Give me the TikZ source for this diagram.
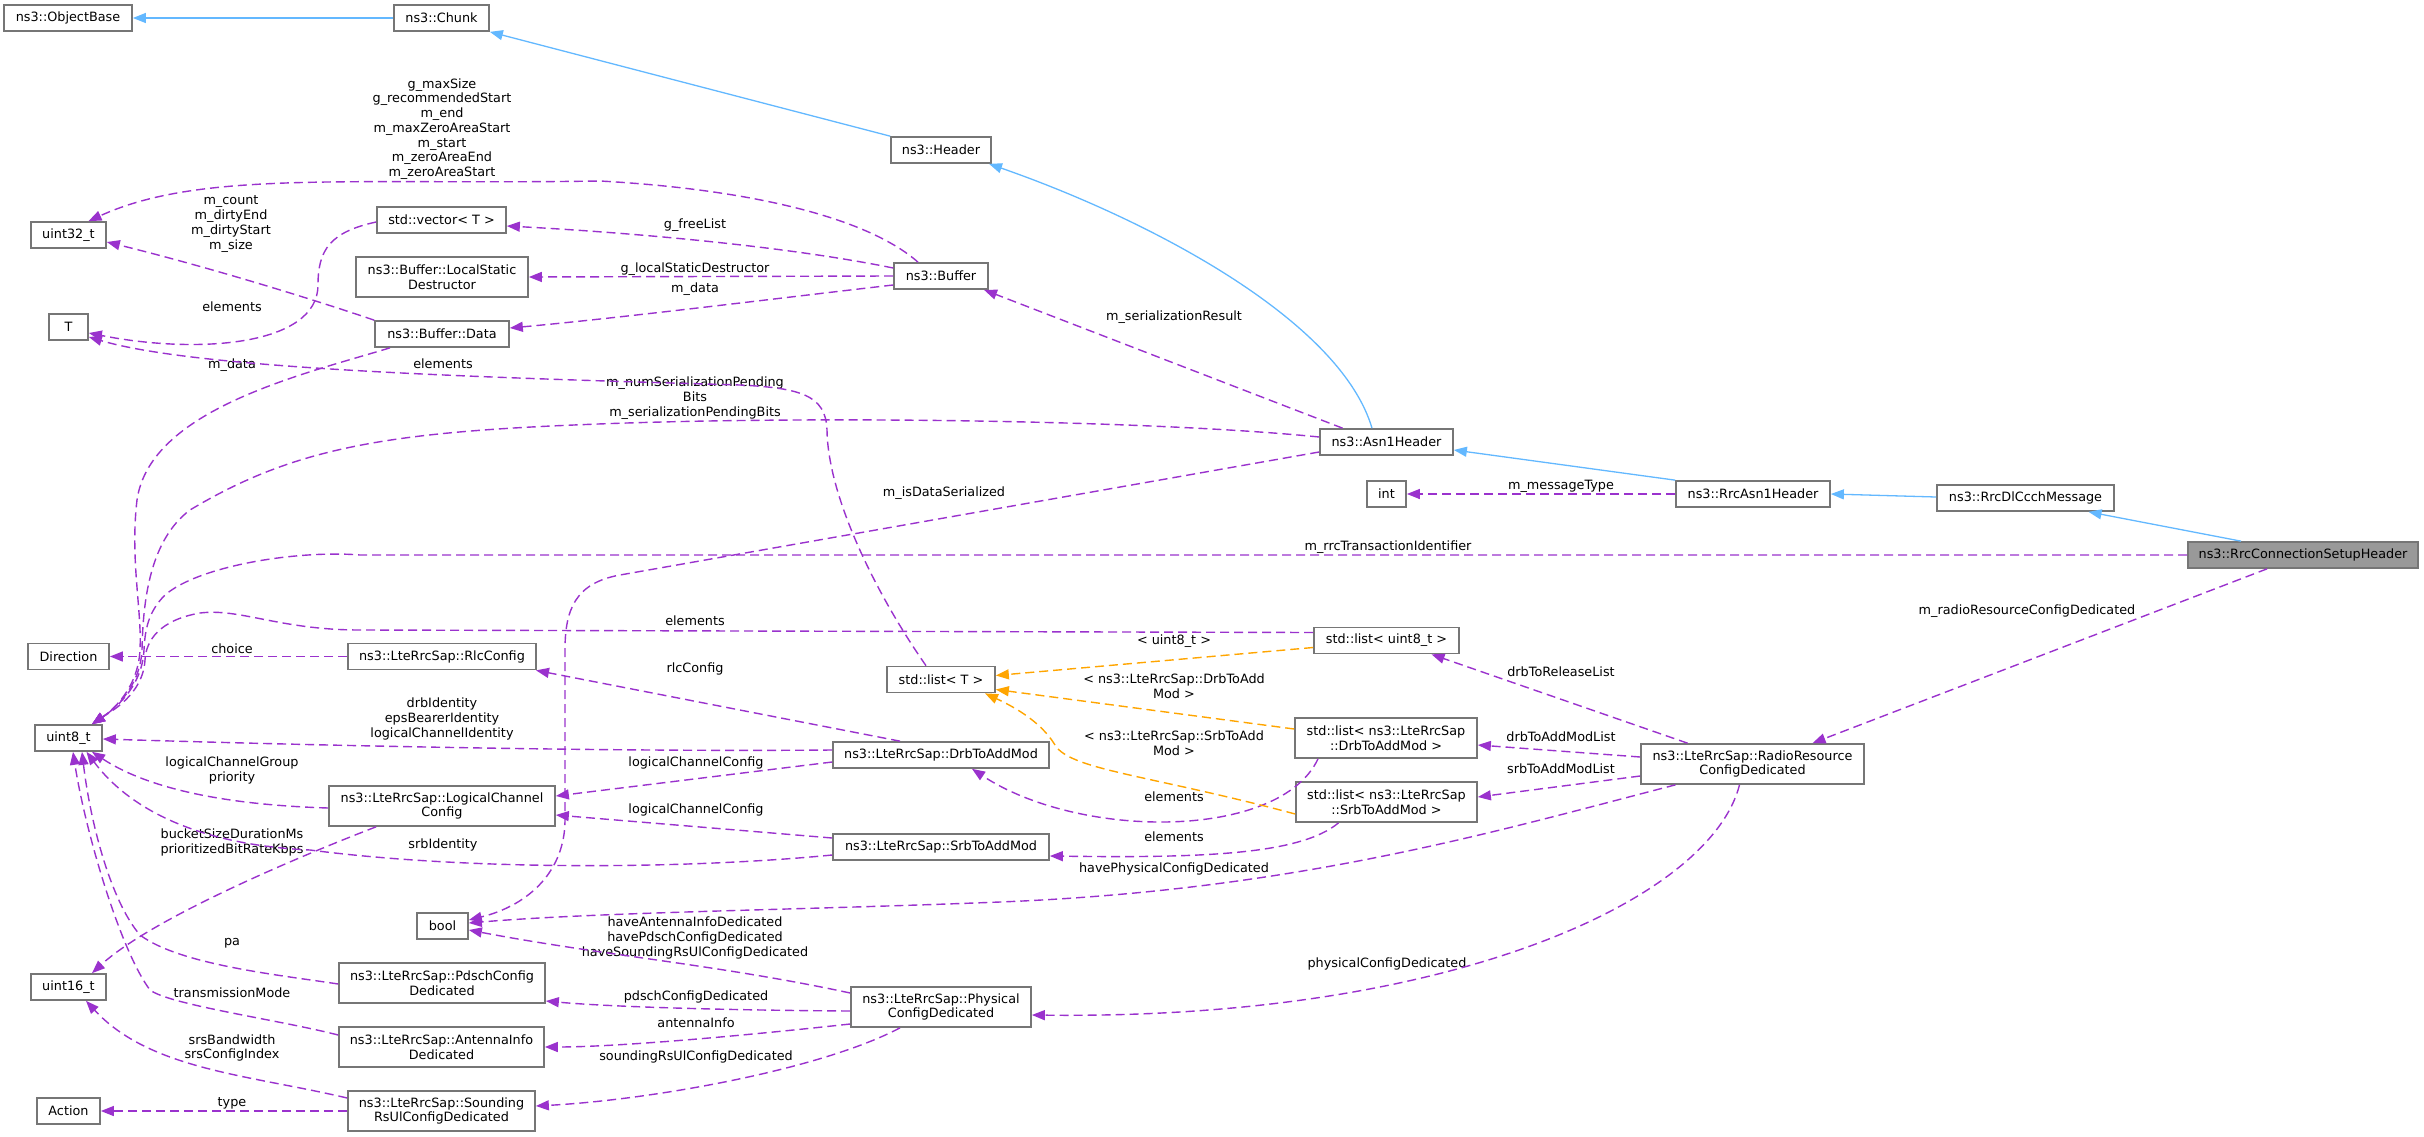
\documentclass[tikz,border=0pt]{standalone}
\usepackage{fontspec}
\setmainfont{DejaVu Sans}
\usetikzlibrary{arrows.meta}
\definecolor{edgepurple}{RGB}{154,50,205}
\definecolor{inhblue}{RGB}{99,184,255}
\definecolor{tplorange}{RGB}{255,165,0}
\definecolor{boxborder}{RGB}{118,118,118}
\definecolor{mainfill}{RGB}{153,153,153}
\newcommand{\lblfont}{\fontsize{12.8pt}{14.7pt}\selectfont}
\tikzset{
 box/.style={draw=boxborder, line width=1.7pt, fill=white, inner sep=0pt, minimum height=26pt, align=center, font=\lblfont},
 boxtwo/.style={box, minimum height=40pt},
 lbl/.style={inner sep=0pt, align=center, font=\lblfont},
 use/.style={draw=edgepurple, line width=1.4pt, dash pattern=on 9pt off 5pt, -{Triangle[length=13pt,width=10pt]}},
 inh/.style={draw=inhblue, line width=1.3pt, -{Triangle[length=13pt,width=10pt]}},
 tpl/.style={draw=tplorange, line width=1.4pt, dash pattern=on 9pt off 5pt, -{Triangle[length=13pt,width=10pt]}},
}
\begin{document}
\begin{tikzpicture}[x=1pt,y=-1pt]
\useasboundingbox (0,0) rectangle (2424,1137);
% ---------------- nodes ----------------
\node[box, minimum width=128pt] (objbase) at (68,18) {ns3::ObjectBase};
\node[box, minimum width=95pt] (chunk) at (441.5,18) {ns3::Chunk};
\node[box, minimum width=100pt] (header) at (941,150) {ns3::Header};
\node[box, minimum width=94pt] (buffer) at (941,276) {ns3::Buffer};
\node[box, minimum width=133pt] (asn1) at (1386.5,442) {ns3::Asn1Header};
\node[box, minimum width=154pt] (rrcasn1) at (1753,494) {ns3::RrcAsn1Header};
\node[box, minimum width=177pt] (dlccch) at (2025.5,498) {ns3::RrcDlCcchMessage};
\node[box, minimum width=230pt, fill=mainfill] (rcsh) at (2303,555) {ns3::RrcConnectionSetupHeader};
\node[box, minimum width=39pt] (nint) at (1386.5,494) {int};
\node[box, minimum width=75pt] (uint32) at (68.5,235) {uint32\_t};
\node[box, minimum width=39pt] (nT) at (68.5,327) {T};
\node[box, minimum width=129pt] (vector) at (441.5,220) {std::vector< T >};
\node[boxtwo, minimum width=172pt] (lsd) at (442,277) {ns3::Buffer::LocalStatic\\Destructor};
\node[box, minimum width=134pt] (bdata) at (442,334) {ns3::Buffer::Data};
\node[box, minimum width=81pt] (direction) at (68.5,656.5) {Direction};
\node[box, minimum width=188pt] (rlc) at (442,656.5) {ns3::LteRrcSap::RlcConfig};
\node[box, minimum width=67pt] (uint8) at (68.5,738) {uint8\_t};
\node[box, minimum width=108pt] (listT) at (941,679.5) {std::list< T >};
\node[box, minimum width=145pt] (listu8) at (1386.5,640.5) {std::list< uint8\_t >};
\node[boxtwo, minimum width=182pt] (listdrb) at (1386,738) {std::list< ns3::LteRrcSap\\::DrbToAddMod >};
\node[boxtwo, minimum width=181pt] (listsrb) at (1386.5,802) {std::list< ns3::LteRrcSap\\::SrbToAddMod >};
\node[box, minimum width=216pt] (drb) at (941,755) {ns3::LteRrcSap::DrbToAddMod};
\node[box, minimum width=216pt] (srb) at (941,847) {ns3::LteRrcSap::SrbToAddMod};
\node[boxtwo, minimum width=226pt] (lcc) at (442,806) {ns3::LteRrcSap::LogicalChannel\\Config};
\node[boxtwo, minimum width=223pt] (rrcd) at (1752.5,764) {ns3::LteRrcSap::RadioResource\\ConfigDedicated};
\node[box, minimum width=51pt] (nbool) at (442.5,926) {bool};
\node[box, minimum width=75pt] (uint16) at (68.5,987) {uint16\_t};
\node[boxtwo, minimum width=206pt] (pdsch) at (442,983) {ns3::LteRrcSap::PdschConfig\\Dedicated};
\node[boxtwo, minimum width=180pt] (phys) at (941,1007) {ns3::LteRrcSap::Physical\\ConfigDedicated};
\node[boxtwo, minimum width=205pt] (antenna) at (441.5,1047) {ns3::LteRrcSap::AntennaInfo\\Dedicated};
\node[box, minimum width=63pt] (action) at (68.5,1111) {Action};
\node[boxtwo, minimum width=187pt] (sounding) at (441.5,1111) {ns3::LteRrcSap::Sounding\\RsUlConfigDedicated};
% ---------------- labels ----------------
\node[lbl] (la1) at (442,129) {g\_maxSize\\g\_recommendedStart\\m\_end\\m\_maxZeroAreaStart\\m\_start\\m\_zeroAreaEnd\\m\_zeroAreaStart};
\node[lbl] (la2) at (231,224) {m\_count\\m\_dirtyEnd\\m\_dirtyStart\\m\_size};
\node[lbl] (la3) at (695,225) {g\_freeList};
\node[lbl] (la4) at (695,269) {g\_localStaticDestructor};
\node[lbl] (la5) at (695,289) {m\_data};
\node[lbl] (la6) at (232,307) {elements};
\node[lbl] (la7) at (232,365) {m\_data};
\node[lbl] (la8) at (443,364) {elements};
\node[lbl] (la9) at (1174,317) {m\_serializationResult};
\node[lbl] (la10) at (695,398) {m\_numSerializationPending\\Bits\\m\_serializationPendingBits};
\node[lbl] (la11) at (944,493) {m\_isDataSerialized};
\node[lbl] (la12) at (1561,486) {m\_messageType};
\node[lbl] (la13) at (1388,547) {m\_rrcTransactionIdentifier};
\node[lbl] (la14) at (2027,611) {m\_radioResourceConfigDedicated};
\node[lbl] (la15) at (695,621) {elements};
\node[lbl] (la16) at (1174,641) {< uint8\_t >};
\node[lbl] (la17) at (232,649) {choice};
\node[lbl] (la18) at (695,669) {rlcConfig};
\node[lbl] (la19) at (1561,672) {drbToReleaseList};
\node[lbl] (la20) at (1174,686) {< ns3::LteRrcSap::DrbToAdd\\Mod >};
\node[lbl] (la21) at (442,719) {drbIdentity\\epsBearerIdentity\\logicalChannelIdentity};
\node[lbl] (la22) at (1561,737) {drbToAddModList};
\node[lbl] (la23) at (1174,743.5) {< ns3::LteRrcSap::SrbToAdd\\Mod >};
\node[lbl] (la24) at (232,770.5) {logicalChannelGroup\\priority};
\node[lbl] (la25) at (696,763) {logicalChannelConfig};
\node[lbl] (la26) at (1561,769) {srbToAddModList};
\node[lbl] (la27) at (1174,797) {elements};
\node[lbl] (la28) at (696,810) {logicalChannelConfig};
\node[lbl] (la29) at (1174,837) {elements};
\node[lbl] (la30) at (232,842.5) {bucketSizeDurationMs\\prioritizedBitRateKbps};
\node[lbl] (la31) at (443,845) {srbIdentity};
\node[lbl] (la32) at (1174,869) {havePhysicalConfigDedicated};
\node[lbl] (la33) at (695,938) {haveAntennaInfoDedicated\\havePdschConfigDedicated\\haveSoundingRsUlConfigDedicated};
\node[lbl] (la34) at (232,943) {pa};
\node[lbl] (la35) at (1387,964) {physicalConfigDedicated};
\node[lbl] (la36) at (232,993) {transmissionMode};
\node[lbl] (la37) at (696,997) {pdschConfigDedicated};
\node[lbl] (la38) at (696,1023) {antennaInfo};
\node[lbl] (la39) at (232,1048) {srsBandwidth\\srsConfigIndex};
\node[lbl] (la40) at (696,1057) {soundingRsUlConfigDedicated};
\node[lbl] (la41) at (232,1103) {type};
% ---------------- inheritance ----------------
\draw[inh] (chunk.west) -- (objbase.east);
\draw[inh] (header.north west) -- (chunk.south east);
\draw[inh] ([xshift=-14.5pt]asn1.north) .. controls (1340,320) and (1150,220) .. ([xshift=48pt]header.south);
\draw[inh] (rrcasn1.north west) -- ([yshift=-8pt]asn1.east);
\draw[inh] ([yshift=1pt]dlccch.west) -- (rrcasn1.east);
\draw[inh] ([xshift=-62pt]rcsh.north) -- ([xshift=63pt]dlccch.south);
% ---------------- usage ----------------
\draw[use] ([xshift=-23pt]buffer.north) .. controls (870,220) and (760,190) .. (600,181) .. controls (350,185) and (200,170) .. ([xshift=20pt]uint32.north);
\draw[use] (bdata.north west) .. controls (300,295) and (200,265) .. ([yshift=-7pt]uint32.east);
\draw[use] ([yshift=8pt]buffer.west) .. controls (780,245) and (620,232) .. ([yshift=-6pt]vector.east);
\draw[use] (buffer.west) -- (lsd.east);
\draw[use] ([yshift=-9pt]buffer.west) .. controls (780,298) and (620,318) .. ([yshift=6pt]bdata.east);
\draw[use] ([yshift=-2pt]vector.west) .. controls (330,232) and (318,250) .. (318,285) .. controls (318,345) and (200,355) .. ([yshift=-6pt]nT.east);
\draw[use] ([xshift=-15pt]listT.north) .. controls (880,600) and (828,500) .. (827,430) .. controls (826,395) and (800,388) .. (740,385) .. controls (500,378) and (200,370) .. ([yshift=-10pt]nT.east);
\draw[use] ([xshift=-52pt]bdata.south) .. controls (300,375) and (150,410) .. (137,500) .. controls (130,560) and (142,610) .. (140,650) .. controls (138,690) and (110,712) .. ([xshift=23.5pt]uint8.north);
\draw[use] ([yshift=5pt]asn1.west) .. controls (1150,420) and (800,415) .. (574,425) .. controls (380,433) and (290,450) .. (190,510) .. controls (150,540) and (143,600) .. (142,650) .. controls (140,690) and (110,712) .. ([xshift=23.5pt]uint8.north);
\draw[use] ([yshift=-10pt]asn1.west) -- (620,575) .. controls (575,583) and (565,610) .. (565,650) -- (565,820) .. controls (565,870) and (530,905) .. ([yshift=6pt]nbool.east);
\draw[use] (rcsh.west) -- (360,555) .. controls (300,550) and (200,565) .. (165,595) .. controls (148,612) and (145,630) .. (144,650) .. controls (142,690) and (110,712) .. ([xshift=23.5pt]uint8.north);
\draw[use] ([yshift=8pt]listu8.west) -- (360,630) .. controls (280,630) and (240,608) .. (200,613) .. controls (160,620) and (146,640) .. (145,660) .. controls (143,695) and (110,712) .. ([xshift=23.5pt]uint8.north);
\draw[use] ([xshift=-44pt]asn1.north) -- ([xshift=43pt]buffer.south);
\draw[use] (rrcasn1.west) -- (nint.east);
\draw[use] (rlc.west) -- (direction.east);
\draw[use] ([xshift=-41pt]drb.north) -- ([xshift=94pt]rlc.south);
\draw[use] ([yshift=5pt]drb.west) .. controls (600,752) and (300,745) .. ([yshift=-1pt]uint8.east);
\draw[use] ([yshift=-7pt]drb.west) -- ([yshift=10pt]lcc.east);
\draw[use] ([yshift=9pt]srb.west) -- ([yshift=-9pt]lcc.east);
\draw[use] ([yshift=-8pt]srb.west) .. controls (700,868) and (480,872) .. (310,850) .. controls (200,845) and (130,810) .. ([xshift=18pt]uint8.south);
\draw[use] ([yshift=-2pt]lcc.west) .. controls (230,805) and (150,790) .. ([xshift=23.5pt]uint8.south);
\draw[use] ([xshift=-66pt]lcc.south) .. controls (290,860) and (150,920) .. ([xshift=23.5pt]uint16.north);
\draw[use] ([yshift=-1pt]pdsch.west) .. controls (280,975) and (180,965) .. (140,935) .. controls (110,900) and (90,820) .. ([xshift=13.5pt]uint8.south);
\draw[use] ([yshift=12pt]antenna.west) .. controls (280,1020) and (170,1005) .. (150,990) .. controls (120,950) and (85,830) .. ([xshift=4.5pt]uint8.south);
\draw[use] ([yshift=13pt]sounding.west) .. controls (250,1075) and (150,1070) .. ([xshift=17.5pt]uint16.south);
\draw[use] (sounding.west) -- (action.east);
\draw[use] ([yshift=14pt]phys.west) .. controls (720,965) and (600,955) .. ([yshift=-4pt]nbool.east);
\draw[use] ([yshift=-4pt]phys.west) .. controls (700,1010) and (600,1006) .. ([yshift=-18pt]pdsch.east);
\draw[use] ([yshift=-17pt]phys.west) .. controls (750,1035) and (620,1047) .. (antenna.east);
\draw[use] ([xshift=-41pt]phys.south) .. controls (820,1070) and (650,1100) .. ([yshift=5pt]sounding.east);
\draw[use] ([xshift=-65pt]rrcd.north) -- ([xshift=45pt]listu8.south);
\draw[use] ([yshift=7pt]rrcd.west) -- ([yshift=-7pt]listdrb.east);
\draw[use] ([yshift=-12pt]rrcd.west) -- ([yshift=5pt]listsrb.east);
\draw[use] ([xshift=-77pt]rrcd.south) .. controls (1500,830) and (1300,890) .. (1000,902) .. controls (800,910) and (600,912) .. ([yshift=3pt]nbool.east);
\draw[use] ([xshift=-13pt]rrcd.south) .. controls (1710,900) and (1450,1020) .. ([yshift=-8pt]phys.east);
\draw[use] ([xshift=-36pt]rcsh.south) -- ([xshift=60pt]rrcd.north);
\draw[use] ([xshift=-68pt]listdrb.south) .. controls (1280,840) and (1080,840) .. ([xshift=31pt]drb.south);
\draw[use] ([xshift=-48pt]listsrb.south) .. controls (1300,855) and (1200,858) .. ([yshift=-9pt]srb.east);
% ---------------- template ----------------
\draw[tpl] ([yshift=-7pt]listu8.west) -- ([yshift=4pt]listT.east);
\draw[tpl] ([yshift=9pt]listdrb.west) -- ([yshift=-10pt]listT.east);
\draw[tpl] ([yshift=-12pt]listsrb.west) .. controls (1150,775) and (1070,770) .. (1055,745) .. controls (1040,720) and (1010,705) .. ([xshift=44pt]listT.south);
\end{tikzpicture}
\end{document}
